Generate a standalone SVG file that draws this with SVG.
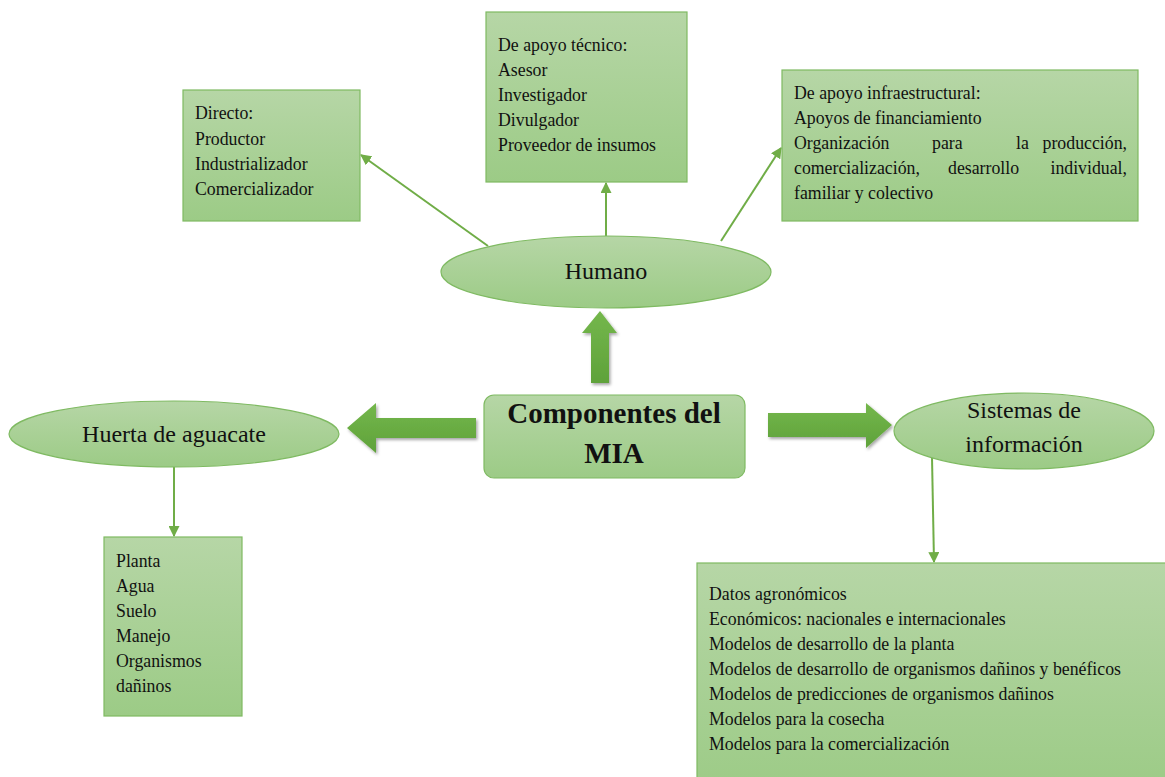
<svg xmlns="http://www.w3.org/2000/svg" width="1165" height="777" viewBox="0 0 1165 777">
<defs>
<linearGradient id="g" x1="0" y1="0" x2="0" y2="1"><stop offset="0" stop-color="#b6d6a6"/><stop offset="1" stop-color="#9ccb86"/></linearGradient>
<linearGradient id="ga" x1="0" y1="0" x2="0" y2="1"><stop offset="0" stop-color="#74b74c"/><stop offset="1" stop-color="#5fa23a"/></linearGradient>
<filter id="sh" x="-20%" y="-20%" width="150%" height="150%"><feDropShadow dx="1.5" dy="2" stdDeviation="1.5" flood-color="#000" flood-opacity="0.35"/></filter>
<marker id="ah" viewBox="0 0 10 10" refX="9" refY="5" markerWidth="5.5" markerHeight="5.5" orient="auto-start-reverse"><path d="M0,0 L10,5 L0,10 z" fill="#70ad47"/></marker>
</defs>
<style>
.box{fill:url(#g);stroke:#7fba62;stroke-width:1.2}
.t{font-family:"Liberation Serif",serif;font-size:17.8px;fill:#111}
.tl{font-family:"Liberation Serif",serif;font-size:24px;fill:#111;text-anchor:middle}
.tc{font-family:"Liberation Serif",serif;font-size:29px;font-weight:bold;fill:#111;text-anchor:middle}
.c{stroke:#70ad47;stroke-width:2;fill:none;marker-end:url(#ah)}
.ba{fill:url(#ga);filter:url(#sh)}
</style>
<g id="connectors">
<line class="c" x1="488" y1="246" x2="361" y2="155"/>
<line class="c" x1="606" y1="237" x2="606" y2="183"/>
<line class="c" x1="721" y1="241" x2="781" y2="148"/>
<line class="c" x1="174" y1="467" x2="174" y2="536"/>
<line class="c" x1="932" y1="457" x2="934" y2="562"/>
<path class="ba" d="M591,383 L591,333 L582,333 L600,311 L617,333 L609,333 L609,383 Z"/>
<path class="ba" d="M476,418 L376,418 L376,403 L347,428 L376,453 L376,438 L476,438 Z"/>
<path class="ba" d="M768,413 L866,413 L866,403 L892,425 L866,448 L866,437 L768,437 Z"/>
</g>
<g id="directo">
<rect class="box" x="183" y="90" width="177" height="131"/>
<text class="t" x="195" y="119">Directo:</text>
<text class="t" x="195" y="145">Productor</text>
<text class="t" x="195" y="170">Industrializador</text>
<text class="t" x="195" y="195">Comercializador</text>
</g>
<g id="tecnico">
<rect class="box" x="486" y="12" width="201" height="170"/>
<text class="t" x="498" y="51">De apoyo técnico:</text>
<text class="t" x="498" y="76">Asesor</text>
<text class="t" x="498" y="101">Investigador</text>
<text class="t" x="498" y="126">Divulgador</text>
<text class="t" x="498" y="151">Proveedor de insumos</text>
</g>
<g id="infraestructural">
<rect class="box" x="782" y="70" width="356" height="151"/>
<text class="t" x="794" y="99">De apoyo infraestructural:</text>
<text class="t" x="794" y="124">Apoyos de financiamiento</text>
<text class="t" x="794" y="149">Organización</text>
<text class="t" x="932" y="149">para</text>
<text class="t" x="1016" y="149">la</text>
<text class="t" x="1127" y="149" text-anchor="end">producción,</text>
<text class="t" x="794" y="174">comercialización,</text>
<text class="t" x="948" y="174">desarrollo</text>
<text class="t" x="1127" y="174" text-anchor="end">individual,</text>
<text class="t" x="794" y="199">familiar y colectivo</text>
</g>
<g id="humano">
<ellipse cx="606" cy="272" rx="165" ry="36" fill="url(#g)" stroke="#7fba62" stroke-width="1.2"/>
<text class="tl" x="606" y="279">Humano</text>
</g>
<g id="componentes">
<rect class="box" x="484" y="395" width="261" height="83" rx="10"/>
<text class="tc" x="614" y="423">Componentes del</text>
<text class="tc" x="614" y="463">MIA</text>
</g>
<g id="huerta">
<ellipse cx="174" cy="434" rx="165" ry="33" fill="url(#g)" stroke="#7fba62" stroke-width="1.2"/>
<text class="tl" x="174" y="442">Huerta de aguacate</text>
</g>
<g id="sistemas">
<ellipse cx="1024" cy="431" rx="130" ry="38" fill="url(#g)" stroke="#7fba62" stroke-width="1.2"/>
<text class="tl" x="1024" y="418">Sistemas de</text>
<text class="tl" x="1024" y="452">información</text>
</g>
<g id="huerta-items">
<rect class="box" x="104" y="537" width="138" height="179"/>
<text class="t" x="116" y="567">Planta</text>
<text class="t" x="116" y="592">Agua</text>
<text class="t" x="116" y="617">Suelo</text>
<text class="t" x="116" y="642">Manejo</text>
<text class="t" x="116" y="667">Organismos</text>
<text class="t" x="116" y="692">dañinos</text>
</g>
<g id="sistemas-items">
<rect class="box" x="697" y="563" width="480" height="230"/>
<text class="t" x="709" y="600">Datos agronómicos</text>
<text class="t" x="709" y="625">Económicos: nacionales e internacionales</text>
<text class="t" x="709" y="650">Modelos de desarrollo de la planta</text>
<text class="t" x="709" y="675">Modelos de desarrollo de organismos dañinos y benéficos</text>
<text class="t" x="709" y="700">Modelos de predicciones de organismos dañinos</text>
<text class="t" x="709" y="725">Modelos para la cosecha</text>
<text class="t" x="709" y="750">Modelos para la comercialización</text>
</g>
</svg>
